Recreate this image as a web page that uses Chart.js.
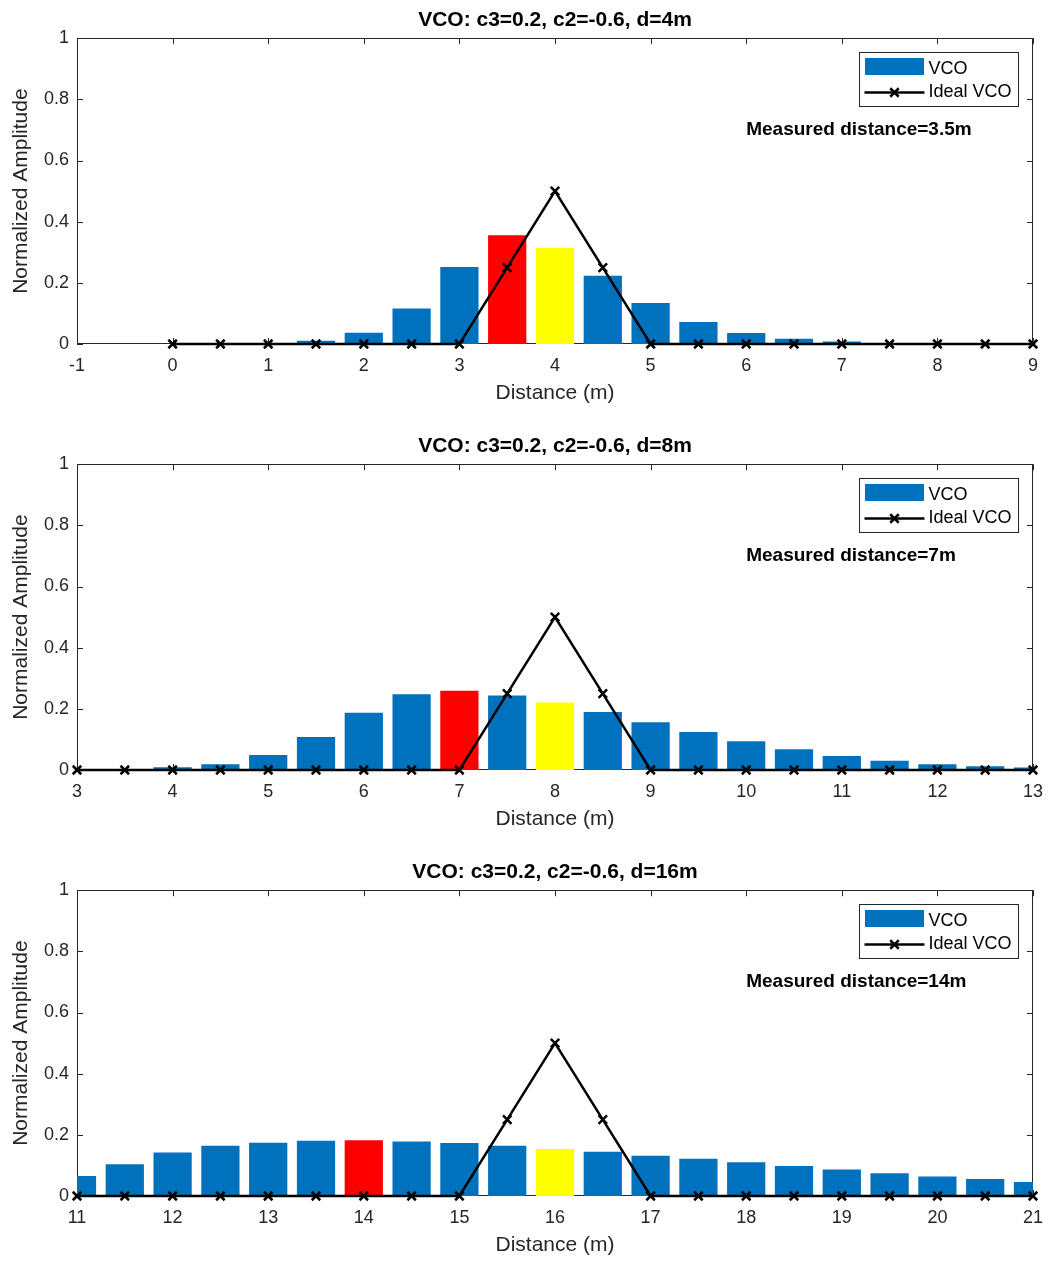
<!DOCTYPE html>
<html>
<head>
<meta charset="utf-8">
<title>VCO distance estimation</title>
<script src="https://cdn.jsdelivr.net/npm/chart.js@4.4.1/dist/chart.umd.min.js"></script>
<style>
    html, body { margin: 0; padding: 0; background: #fff; overflow: hidden; }
    .panel { position: relative; width: 1048px; height: 426px; }
</style>
</head>
<body>
<div class="panel"><canvas id="chart1"></canvas></div>
<div class="panel"><canvas id="chart2"></canvas></div>
<div class="panel"><canvas id="chart3"></canvas></div>

<script>
// Data (three VCO runs, d = 4, 8, 16 m)
const dist1 = [0, 0.5, 1, 1.5, 2, 2.5, 3, 3.5, 4, 4.5, 5, 5.5, 6, 6.5, 7, 7.5, 8, 8.5, 9];
const amp1 = [0, 0, 0.002, 0.011, 0.037, 0.116, 0.252, 0.356, 0.315, 0.223, 0.134, 0.072, 0.036, 0.017, 0.008, 0.003, 0.001, 0, 0];
const ideal1 = [0, 0, 0, 0, 0, 0, 0, 0.25, 0.5, 0.25, 0, 0, 0, 0, 0, 0, 0, 0, 0];

const dist2 = [3, 3.5, 4, 4.5, 5, 5.5, 6, 6.5, 7, 7.5, 8, 8.5, 9, 9.5, 10, 10.5, 11, 11.5, 12, 12.5, 13];
const amp2 = [0, 0.002, 0.009, 0.019, 0.049, 0.108, 0.187, 0.248, 0.259, 0.244, 0.221, 0.190, 0.156, 0.124, 0.094, 0.068, 0.046, 0.030, 0.019, 0.012, 0.008];
const ideal2 = [0, 0, 0, 0, 0, 0, 0, 0, 0, 0.25, 0.5, 0.25, 0, 0, 0, 0, 0, 0, 0, 0, 0];

const dist3 = [11, 11.5, 12, 12.5, 13, 13.5, 14, 14.5, 15, 15.5, 16, 16.5, 17, 17.5, 18, 18.5, 19, 19.5, 20, 20.5, 21];
const amp3 = [0.065, 0.104, 0.142, 0.164, 0.174, 0.181, 0.182, 0.178, 0.173, 0.164, 0.154, 0.145, 0.132, 0.122, 0.110, 0.098, 0.087, 0.074, 0.064, 0.056, 0.046];
const ideal3 = [0, 0, 0, 0, 0, 0, 0, 0, 0, 0.25, 0.5, 0.25, 0, 0, 0, 0, 0, 0, 0, 0, 0];

const trueDist = [4, 8, 16];
const measuredDist = [3.5, 7, 14];
const xRanges = [[-1, 9], [3, 13], [11, 21]];
const yTicks = [0, 0.2, 0.4, 0.6, 0.8, 1];

const BLUE = '#0072BD';
const RED = '#FF0000';
const YELLOW = '#FFFF00';
const AXIS = '#262626';
const FONT = '"Liberation Sans", Arial, Helvetica, sans-serif';

// Red bar = measured peak, yellow bar = true distance
function barColors(xs, measured, actual) {
    return xs.map(v => v === measured ? RED : (v === actual ? YELLOW : BLUE));
}

function toPoints(xs, ys) {
    return xs.map((x, i) => ({ x: x, y: ys[i] }));
}

// MATLAB-style box with inward ticks on all four sides
const axesBox = {
    id: 'axesBox',
    beforeDatasetsDraw(chart) {
        const { ctx, chartArea: a, scales: { x, y } } = chart;
        ctx.save();
        ctx.strokeStyle = AXIS;
        ctx.lineWidth = 1;
        ctx.beginPath();
        ctx.rect(Math.round(a.left) + 0.5, Math.round(a.top) + 0.5,
            Math.round(a.width) - 1, Math.round(a.height) - 1);
        x.ticks.forEach(t => {
            const px = Math.round(x.getPixelForValue(t.value)) + 0.5;
            ctx.moveTo(px, a.bottom); ctx.lineTo(px, a.bottom - 6);
            ctx.moveTo(px, a.top); ctx.lineTo(px, a.top + 6);
        });
        y.ticks.forEach(t => {
            const py = Math.round(y.getPixelForValue(t.value)) + 0.5;
            ctx.moveTo(a.left, py); ctx.lineTo(a.left + 6, py);
            ctx.moveTo(a.right, py); ctx.lineTo(a.right - 6, py);
        });
        ctx.stroke();
        ctx.restore();
    }
};

// Legend box in the top right corner + measured distance note
const legendAndNote = {
    id: 'legendAndNote',
    afterDraw(chart, args, opts) {
        const { ctx, chartArea: a, scales: { x, y } } = chart;
        const w = 159, h = 54;
        const left = Math.round(a.right - 15 - w) + 0.5;
        const top = Math.round(a.top + 14) + 0.5;
        ctx.save();
        ctx.fillStyle = '#fff';
        ctx.fillRect(left, top, w, h);
        ctx.strokeStyle = AXIS;
        ctx.lineWidth = 1;
        ctx.strokeRect(left, top, w, h);

        const [lineDs, barDs] = chart.data.datasets;
        ctx.fillStyle = BLUE;
        ctx.fillRect(left + 5.5, top + 5.5, 59, 17);

        ctx.strokeStyle = '#000';
        ctx.lineWidth = 2.5;
        ctx.beginPath();
        ctx.moveTo(left + 5, top + 40);
        ctx.lineTo(left + 65, top + 40);
        ctx.stroke();
        Chart.helpers.drawPoint(ctx, { pointStyle: 'crossRot', radius: 6, borderWidth: 2.5 }, left + 35, top + 40);

        ctx.fillStyle = '#000';
        ctx.font = '18px ' + FONT;
        ctx.textBaseline = 'middle';
        ctx.textAlign = 'left';
        ctx.fillText(barDs.label, left + 69, top + 17);
        ctx.fillText(lineDs.label, left + 69, top + 40);

        ctx.font = 'bold 19px ' + FONT;
        ctx.fillText(opts.text, x.getPixelForValue(opts.x), y.getPixelForValue(opts.y));
        ctx.restore();
    }
};

function createPanel(canvasId, dists, amps, ideal, idx) {
    const ctx = document.getElementById(canvasId).getContext('2d');
    new Chart(ctx, {
        type: 'bar',
        data: {
            datasets: [{
                type: 'line',
                label: 'Ideal VCO',
                data: toPoints(dists, ideal),
                borderColor: '#000',
                borderWidth: 2.5,
                pointStyle: 'crossRot',
                pointRadius: 6,
                pointBorderColor: '#000',
                pointBorderWidth: 2.5,
                fill: false,
                tension: 0,
                clip: false,
                order: 0
            }, {
                type: 'bar',
                label: 'VCO',
                data: toPoints(dists, amps),
                backgroundColor: barColors(dists, measuredDist[idx], trueDist[idx]),
                borderWidth: 0,
                barPercentage: 0.8,
                categoryPercentage: 1,
                clip: 0,
                order: 1
            }]
        },
        options: {
            responsive: true,
            maintainAspectRatio: false,
            animation: false,
            events: [],
            layout: { padding: { left: 0, right: 15, top: 0, bottom: 0 } },
            plugins: {
                legend: { display: false },
                tooltip: { enabled: false },
                title: {
                    display: true,
                    fullSize: false,
                    text: 'VCO: c3=0.2, c2=-0.6, d=' + trueDist[idx] + 'm',
                    color: '#000',
                    font: { family: FONT, size: 21, weight: 'bold' },
                    padding: { top: 8, bottom: 5 }
                },
                legendAndNote: {
                    text: 'Measured distance=' + measuredDist[idx] + 'm',
                    x: trueDist[idx] + 2,
                    y: 0.7
                }
            },
            scales: {
                x: {
                    type: 'linear',
                    min: xRanges[idx][0],
                    max: xRanges[idx][1],
                    offset: false,
                    grid: { display: false, drawTicks: false, offset: false },
                    border: { display: false },
                    ticks: {
                        stepSize: 1,
                        color: AXIS,
                        padding: 11,
                        maxRotation: 0,
                        font: { family: FONT, size: 18 }
                    },
                    title: {
                        display: true,
                        text: 'Distance (m)',
                        color: AXIS,
                        font: { family: FONT, size: 21 },
                        padding: { top: 0, bottom: 20 }
                    },
                    afterFit(scale) {
                        scale.height = 82;
                        scale.paddingLeft = 0;
                        scale.paddingRight = 0;
                    }
                },
                y: {
                    min: 0,
                    max: 1,
                    grid: { display: false, drawTicks: false },
                    border: { display: false },
                    afterBuildTicks(scale) { scale.ticks = yTicks.map(v => ({ value: v })); },
                    ticks: {
                        color: AXIS,
                        padding: 8,
                        font: { family: FONT, size: 18 },
                        callback: v => String(v)
                    },
                    title: {
                        display: true,
                        text: 'Normalized Amplitude',
                        color: AXIS,
                        font: { family: FONT, size: 21 },
                        padding: { top: 9, bottom: 0 }
                    },
                    afterFit(scale) { scale.width = 77; }
                }
            }
        },
        plugins: [axesBox, legendAndNote]
    });
}

document.addEventListener('DOMContentLoaded', () => {
    createPanel('chart1', dist1, amp1, ideal1, 0);
    createPanel('chart2', dist2, amp2, ideal2, 1);
    createPanel('chart3', dist3, amp3, ideal3, 2);
});
</script>
</body>
</html>
